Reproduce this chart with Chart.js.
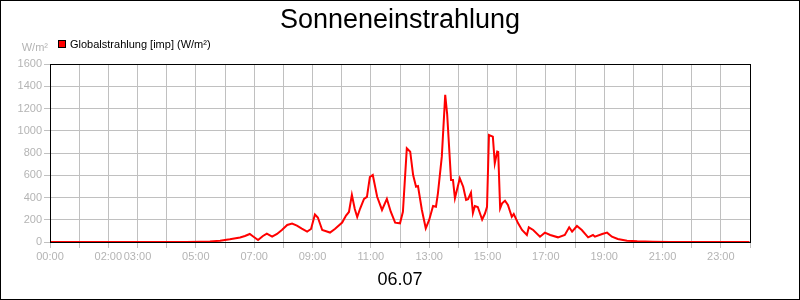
<!DOCTYPE html>
<html lang="de">
<head>
    <meta charset="UTF-8">
    <title>Sonneneinstrahlung</title>
    <script src="https://cdn.jsdelivr.net/npm/chart.js"></script>
    <style>
        body { margin: 0; background: #fff; }
        canvas { display: block; }
    </style>
</head>
<body>
<canvas id="chart" width="800" height="300"></canvas>
<script>
    // Messzeiten (HH:MM) und Globalstrahlung in W/m²
    const times = [
        '00:00', '04:40', '05:09', '05:29', '05:50', '06:10', '06:31', '06:41', '06:51', '06:58',
        '07:08', '07:18', '07:26', '07:37', '07:47', '07:57', '08:08', '08:18', '08:28', '08:38',
        '08:49', '08:57', '09:05', '09:11', '09:20', '09:36', '09:46', '10:01', '10:09', '10:15',
        '10:21', '10:27', '10:32', '10:38', '10:46', '10:52', '10:58', '11:04', '11:13', '11:23',
        '11:33', '11:41', '11:50', '12:00', '12:06', '12:14', '12:21', '12:27', '12:33', '12:37',
        '12:45', '12:53', '13:00', '13:08', '13:14', '13:18', '13:26', '13:33', '13:37', '13:45',
        '13:49', '13:53', '14:03', '14:10', '14:16', '14:20', '14:26', '14:30', '14:34', '14:40',
        '14:49', '14:55', '14:59', '15:03', '15:11', '15:15', '15:20', '15:22', '15:26', '15:30',
        '15:36', '15:42', '15:50', '15:54', '16:03', '16:11', '16:21', '16:25', '16:34', '16:48',
        '16:58', '17:09', '17:25', '17:39', '17:48', '17:54', '18:04', '18:14', '18:27', '18:37',
        '18:41', '18:56', '19:06', '19:16', '19:28', '19:47', '20:08', '20:40', '21:15', '23:59'
    ];
    const globalstrahlung = [
        0, 0, 3, 5, 12, 24, 40, 54, 72, 50,
        18, 54, 76, 48, 72, 108, 153, 166, 148, 121,
        94, 117, 247, 220, 108, 85, 117, 175, 238, 270,
        423, 297, 225, 301, 387, 405, 584, 602, 407, 288,
        387, 272, 174, 168, 272, 842, 812, 602, 497, 503,
        288, 123, 198, 324, 317, 438, 767, 1322, 1150, 557,
        557, 393, 573, 497, 378, 384, 443, 261, 324, 315,
        202, 258, 317, 962, 947, 708, 812, 809, 303, 348,
        371, 333, 227, 252, 168, 108, 63, 132, 108, 48,
        84, 63, 42, 63, 132, 93, 144, 108, 42, 63,
        48, 72, 84, 48, 27, 12, 6, 3, 0, 0
    ];
    // Beschriftete Stunden der x-Achse
    const xTickLabels = ['00:00', '02:00', '03:00', '05:00', '07:00', '09:00', '11:00',
                         '13:00', '15:00', '17:00', '19:00', '21:00', '23:00'];

    const FONT = '"Liberation Sans", Arial, sans-serif';
    const GRAY = '#b4b4b4';

    function toHours(t) {
        const [h, m] = t.split(':').map(Number);
        return h + m / 60;
    }

    const points = times.map((t, i) => ({ x: toHours(t), y: globalstrahlung[i] }));

    // Titel, Legende, Einheit, Datum und Rahmen
    const decorPlugin = {
        id: 'decor',
        afterDraw(chart) {
            const ctx = chart.ctx;
            const area = chart.chartArea;
            ctx.save();
            ctx.strokeStyle = '#000';
            ctx.lineWidth = 1;
            ctx.strokeRect(Math.round(area.left) + 0.5, Math.round(area.top) + 0.5,
                Math.round(area.right - area.left), Math.round(area.bottom - area.top));
            ctx.strokeRect(0.5, 0.5, 799, 299);

            ctx.fillStyle = '#000';
            ctx.textAlign = 'center';
            ctx.textBaseline = 'alphabetic';
            ctx.font = '27px ' + FONT;
            ctx.fillText('Sonneneinstrahlung', 400, 28);
            ctx.font = '18px ' + FONT;
            ctx.fillText('06.07', 400, 285);

            // Legende
            ctx.fillStyle = '#ff0000';
            ctx.fillRect(58, 40, 8, 8);
            ctx.strokeRect(58.5, 40.5, 7, 7);
            ctx.fillStyle = '#000';
            ctx.textAlign = 'left';
            ctx.font = '11px ' + FONT;
            ctx.fillText('Globalstrahlung [imp] (W/m²)', 70, 48);

            ctx.fillStyle = GRAY;
            ctx.textAlign = 'right';
            ctx.fillText('W/m²', 48, 51);
            ctx.restore();
        }
    };

    new Chart(document.getElementById('chart'), {
        type: 'line',
        data: {
            datasets: [{
                label: 'Globalstrahlung [imp] (W/m²)',
                data: points,
                borderColor: '#ff0000',
                borderWidth: 2,
                pointRadius: 0,
                tension: 0,
                fill: false
            }]
        },
        options: {
            responsive: false,
            animation: false,
            devicePixelRatio: 1,
            layout: { padding: { top: 64, right: 50, left: 0, bottom: 0 } },
            plugins: {
                legend: { display: false },
                title: { display: false },
                tooltip: { enabled: false }
            },
            scales: {
                x: {
                    type: 'linear',
                    min: 0,
                    max: 24,
                    afterFit(scale) { scale.height = 58; },
                    grid: { color: '#c0c0c0', tickLength: 6, tickColor: '#c0c0c0' },
                    border: { color: '#000' },
                    ticks: {
                        stepSize: 1,
                        autoSkip: false,
                        maxRotation: 0,
                        padding: 2,
                        color: GRAY,
                        font: { family: FONT, size: 11 },
                        callback(value) {
                            const label = String(value).padStart(2, '0') + ':00';
                            return xTickLabels.includes(label) ? label : '';
                        }
                    }
                },
                y: {
                    min: 0,
                    max: 1600,
                    afterFit(scale) { scale.width = 50; },
                    grid: { color: '#c0c0c0', tickLength: 6, tickColor: '#c0c0c0' },
                    border: { color: '#000' },
                    ticks: {
                        stepSize: 200,
                        padding: 2,
                        color: GRAY,
                        font: { family: FONT, size: 11 },
                        callback: (value) => String(value)
                    }
                }
            }
        },
        plugins: [decorPlugin]
    });
</script>
</body>
</html>
